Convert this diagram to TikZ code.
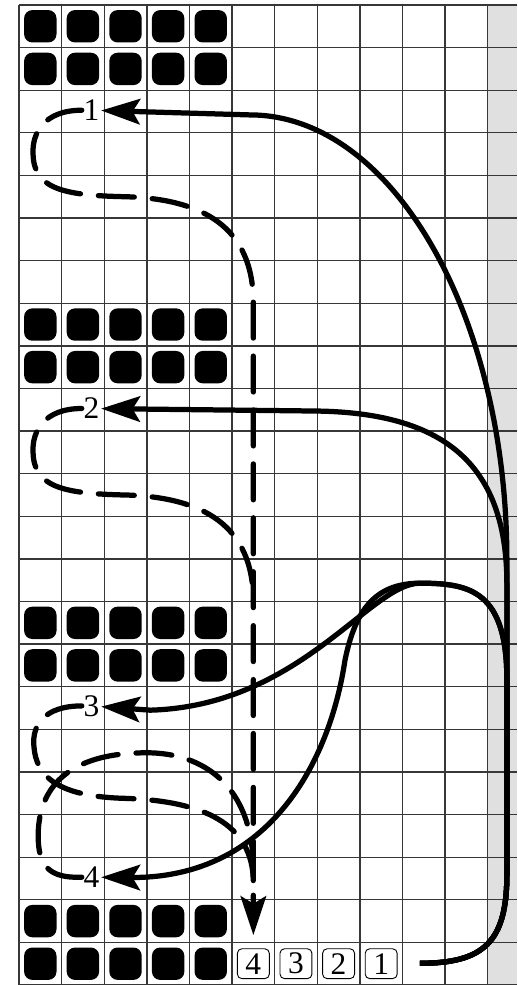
\documentclass[tikz,border=0pt]{standalone}
\usepackage{fontspec}
\setmainfont{Liberation Serif}
\usetikzlibrary{arrows.meta}
\definecolor{gridgray}{RGB}{55,55,55}
\definecolor{edgegray}{RGB}{224,224,224}

\begin{document}
\begin{tikzpicture}[
    stitch/.style={fill=black, rounded corners=5.5pt},
    numbox/.style={draw=black, line width=0.6pt, fill=white, rounded corners=3pt,
                minimum width=0.75cm, minimum height=0.7cm, inner sep=0pt,
                font=\fontsize{21}{24}\selectfont},
    lbl/.style={inner sep=1pt, font=\fontsize{21}{24}\selectfont},
    flow/.style={-{Stealth[length=26pt, width=17pt, inset=5pt]}, line width=3.5pt},
    dashflow/.style={line width=3.5pt, line cap=round, dash pattern=on 24pt off 12pt}
]
    \useasboundingbox (-0.446,0.117) rectangle (11.69,-23);
    \fill[edgegray] (11,0) rectangle (11.69,-23);
    \draw[draw=gridgray, line width=0.9pt] (0,-23) grid (11.69,0);

    \foreach \r in {0,1,7,8,14,15,21,22}
        \foreach \c in {0,...,4}
            \fill[stitch] (\c+0.12,-\r-0.12) rectangle (\c+0.88,-\r-0.88);

    \foreach \n [count=\i] in {4,3,2,1}
        \node[numbox] (b\n) at (4.5+\i,-22.5) {\n};

    \node[lbl] (l1) at (1.7,-2.47) {1};
    \node[lbl] (l2) at (1.7,-9.47) {2};
    \node[lbl] (l3) at (1.7,-16.45) {3};
    \node[lbl] (l4) at (1.7,-20.47) {4};

    \coordinate (start) at (9.41,-22.49);
    \coordinate (tip) at (5.5,-21.83);
    \coordinate (j2) at (5.5,-14.0);
    \coordinate (j3) at (5.5,-20.6);
    \coordinate (j4) at (5.5,-20.3);

    \draw[dashflow, -{Stealth[length=26pt, width=17pt, inset=5pt]}] (l1.west)
        .. controls (0.6,-2.47) and (0.3,-3.0) .. (0.33,-3.5)
        .. controls (0.35,-4.3) and (1.0,-4.47) .. (2.5,-4.5)
        .. controls (4.3,-4.55) and (5.5,-5.2) .. (5.5,-7.0) -- (tip);
    \draw[dashflow] (l2.west)
        .. controls (0.6,-9.47) and (0.3,-10.0) .. (0.33,-10.5)
        .. controls (0.35,-11.3) and (1.0,-11.47) .. (2.5,-11.5)
        .. controls (4.3,-11.55) and (5.5,-12.2) .. (j2);
    \draw[dashflow] (l3.west)
        .. controls (0.6,-16.45) and (0.3,-16.9) .. (0.35,-17.4)
        .. controls (0.4,-18.1) and (0.9,-18.58) .. (2.5,-18.62)
        .. controls (4.3,-18.68) and (5.5,-19.2) .. (j3);
    \draw[dashflow] (l4.west)
        .. controls (0.7,-20.5) and (0.45,-20.2) .. (0.45,-19.5)
        .. controls (0.45,-18.6) and (0.9,-17.55) .. (3.0,-17.55)
        .. controls (4.3,-17.55) and (5.5,-18.3) .. (j4);

    \draw[flow] (start) .. controls (10.9,-22.49) and (11.45,-22.0) .. (11.45,-20.4)
        -- (11.45,-13.03) arc[start angle=0, end angle=90, x radius=6.03, y radius=10.45] -- (l1);
    \draw[flow] (start) .. controls (10.9,-22.49) and (11.45,-22.0) .. (11.45,-20.4)
        -- (11.45,-13.6) .. controls (11.45,-10.9) and (10.12,-9.58) .. (7.0,-9.53) -- (l2);
    \draw[flow] (start) .. controls (10.9,-22.49) and (11.45,-22.0) .. (11.45,-20.4)
        -- (11.45,-15.85) .. controls (11.45,-13.75) and (10.59,-13.57) .. (9.41,-13.57)
        .. controls (8.24,-13.57) and (6.6,-16.45) .. (3.08,-16.55) -- (l3);
    \draw[flow] (start) .. controls (10.9,-22.49) and (11.45,-22.0) .. (11.45,-20.4)
        -- (11.45,-15.85) .. controls (11.45,-13.75) and (10.59,-13.57) .. (9.41,-13.57)
        .. controls (8.36,-13.57) and (7.89,-14.2) .. (7.65,-15.38)
        .. controls (7.30,-17.72) and (5.9,-20.5) .. (l4);
\end{tikzpicture}
\end{document}
